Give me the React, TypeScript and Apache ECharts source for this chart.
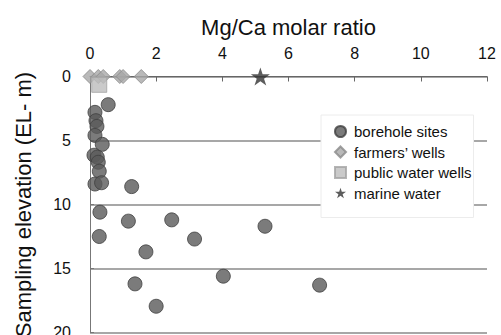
import React, { useEffect, useRef } from "react";
import * as echarts from "echarts";

const boreholeX = [0.55, 0.15, 0.18, 0.21, 0.15, 0.37, 0.12, 0.22, 0.25, 0.28, 0.15, 0.35, 1.26, 0.3, 1.16, 2.47, 5.29, 0.28, 3.16, 1.69, 4.03, 1.36, 6.94, 2.0];
const boreholeY = [2.2, 2.8, 3.45, 3.9, 4.6, 5.3, 6.15, 6.3, 6.7, 7.4, 8.4, 8.3, 8.6, 10.6, 11.3, 11.2, 11.7, 12.5, 12.7, 13.7, 15.6, 16.2, 16.3, 17.95];
const farmersX = [0.0, 0.25, 0.4, 0.9, 1.0, 1.55];
const farmersY = [0, 0, 0, 0, 0, 0];
const publicX = [0.28];
const publicY = [0.65];
const marineX = [5.15];
const marineY = [0];
const xTicks = [0, 2, 4, 6, 8, 10, 12];
const yTicks = [0, 5, 10, 15, 20];
const seriesNames = ["borehole sites", "farmers\u2019 wells", "public water wells", "marine water"];

const STAR = "path://M50 0 L61.23 34.55 L97.55 34.55 L68.17 55.9 L79.39 90.45 L50 69.1 L20.61 90.45 L31.83 55.9 L2.45 34.55 L38.77 34.55 Z";
const FONT = 'Arial, "Liberation Sans", sans-serif';

const zip = (xs: number[], ys: number[]) => xs.map((x, i) => [x, ys[i]]);

export default function App() {
  const ref = useRef<HTMLDivElement>(null);
  useEffect(() => {
    if (!ref.current) return;
    const chart = echarts.init(ref.current, null, { renderer: "svg" });
    chart.setOption({
      animation: false,
      backgroundColor: "#ffffff",
      textStyle: { fontFamily: FONT },
      grid: { left: 90, width: 397, top: 76.5, height: 256, containLabel: false, outerBoundsMode: "none" },
      legend: {
        orient: "vertical",
        left: 321,
        top: 115,
        width: 150,
        backgroundColor: "#ffffff",
        borderColor: "#ececec",
        borderWidth: 1,
        padding: [9, 2, 17, 13],
        itemWidth: 11,
        itemHeight: 11,
        itemGap: 5.5,
        textStyle: { fontSize: 15, color: "#111", fontFamily: FONT, lineHeight: 15, padding: [0, 0, 0, 3] },
        data: seriesNames,
      },
      xAxis: {
        type: "value",
        position: "top",
        min: xTicks[0],
        max: xTicks[xTicks.length - 1],
        interval: 2,
        name: "Mg/Ca molar ratio",
        nameLocation: "middle",
        nameGap: 38,
        nameTextStyle: { fontSize: 22, color: "#111", fontFamily: FONT },
        axisLine: { show: true, lineStyle: { color: "#666", width: 1 } },
        axisTick: { show: true, inside: true, length: 5, lineStyle: { color: "#666" } },
        axisLabel: { fontSize: 16, color: "#111", margin: 15, fontFamily: FONT },
        splitLine: { show: false },
      },
      yAxis: {
        type: "value",
        inverse: true,
        min: yTicks[0],
        max: yTicks[yTicks.length - 1],
        interval: 5,
        name: "Sampling elevation (EL- m)",
        nameLocation: "middle",
        nameGap: 56,
        nameTextStyle: { fontSize: 22, color: "#111", fontFamily: FONT },
        axisLine: { show: true, lineStyle: { color: "#777", width: 1 } },
        axisTick: { show: true, inside: true, length: 4, lineStyle: { color: "#777" } },
        axisLabel: { fontSize: 16, color: "#111", margin: 19, fontFamily: FONT },
        splitLine: { show: true, lineStyle: { color: "#8a8a8a", width: 1.5 } },
      },
      series: [
        {
          name: seriesNames[0],
          type: "scatter",
          symbol: "circle",
          symbolSize: 14,
          itemStyle: { color: "#5a5a5a", borderColor: "#3e3e3e", borderWidth: 1 },
          data: zip(boreholeX, boreholeY),
          z: 3,
        },
        {
          name: seriesNames[1],
          type: "scatter",
          symbol: "diamond",
          symbolSize: 14,
          itemStyle: { color: "#a8a8a8", borderColor: "#8a8a8a", borderWidth: 1 },
          data: zip(farmersX, farmersY),
          z: 4,
        },
        {
          name: seriesNames[2],
          type: "scatter",
          symbol: "rect",
          symbolSize: 15,
          itemStyle: { color: "#bdbdbd", borderColor: "#a3a3a3", borderWidth: 1 },
          data: zip(publicX, publicY),
          z: 5,
        },
        {
          name: seriesNames[3],
          type: "scatter",
          symbol: STAR,
          symbolKeepAspect: true,
          symbolSize: 19,
          itemStyle: { color: "#333333" },
          data: zip(marineX, marineY),
          z: 6,
        },
      ],
    });
    return () => chart.dispose();
  }, []);
  return (
    <div
      ref={ref}
      style={{ position: "fixed", left: 0, top: 0, width: 501, height: 335, overflow: "hidden" }}
    />
  );
}
